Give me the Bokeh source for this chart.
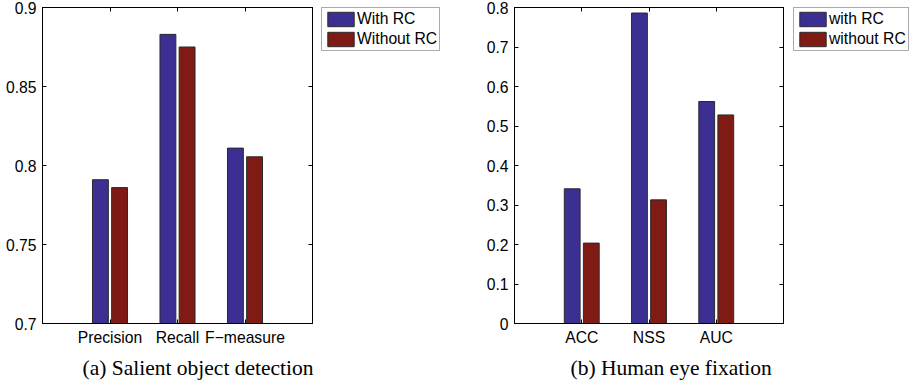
from bokeh.plotting import figure
from bokeh.layouts import row
from bokeh.models import FixedTicker, LinearAxis, Range1d, Legend, LegendItem, Title
from bokeh.core.properties import value
from bokeh.embed import file_html
from bokeh.resources import INLINE

# ---- data: (a) Salient object detection ----
cats_a = ["Precision", "Recall", "F\u2212measure"]
with_a = [0.791, 0.883, 0.811]
without_a = [0.786, 0.875, 0.8055]
yticks_a = [0.7, 0.75, 0.8, 0.85, 0.9]
ylabels_a = ["0.7", "0.75", "0.8", "0.85", "0.9"]
legend_a = ["With RC", "Without RC"]
caption_a = "(a) Salient object detection"

# ---- data: (b) Human eye fixation ----
cats_b = ["ACC", "NSS", "AUC"]
with_b = [0.341, 0.786, 0.562]
without_b = [0.2035, 0.313, 0.528]
yticks_b = [0, 0.1, 0.2, 0.3, 0.4, 0.5, 0.6, 0.7, 0.8]
ylabels_b = ["0", "0.1", "0.2", "0.3", "0.4", "0.5", "0.6", "0.7", "0.8"]
legend_b = ["with RC", "without RC"]
caption_b = "(b) Human eye fixation"

BLUE = "#3b2f94"
RED = "#7f1a15"
EDGE = "#2a2a2a"
SANS = "Liberation Sans"
SERIF = "Liberation Serif"
FS = "15.7px"
OFF = 0.142
BW = 0.235


def make_panel(cats, s1, s2, yticks, ylabels, caption, width, left, right, cap_off):
    n = len(cats)
    xs = list(range(1, n + 1))
    p = figure(width=width, height=384, x_range=Range1d(0, n + 1),
               y_range=Range1d(yticks[0], yticks[-1]),
               output_backend="svg", toolbar_location=None,
               min_border_left=left, min_border_right=right,
               min_border_top=7, min_border_bottom=61,
               x_axis_type=None, y_axis_type=None)
    p.grid.visible = False
    p.outline_line_color = "black"
    p.outline_line_width = 1
    p.background_fill_color = "white"
    p.border_fill_color = "white"

    common = dict(major_tick_in=4, major_tick_out=0, minor_tick_in=0, minor_tick_out=0,
                  axis_line_color="black", major_tick_line_color="black",
                  major_label_text_font=SANS, major_label_text_font_size=FS,
                  major_label_text_color="black")

    yax = LinearAxis(ticker=FixedTicker(ticks=yticks, minor_ticks=[]),
                     major_label_overrides={t: l for t, l in zip(yticks, ylabels)},
                     major_label_standoff=6, **common)
    p.add_layout(yax, "left")
    xax = LinearAxis(ticker=FixedTicker(ticks=xs, minor_ticks=[]),
                     major_label_overrides={x: c for x, c in zip(xs, cats)},
                     major_label_standoff=5, **common)
    p.add_layout(xax, "below")

    hidden = dict(common)
    hidden["major_label_text_alpha"] = 0
    hidden["major_label_text_font_size"] = "1px"
    rax = LinearAxis(ticker=FixedTicker(ticks=yticks, minor_ticks=[]),
                     major_label_overrides={t: " " for t in yticks},
                     major_label_standoff=0, **hidden)
    p.add_layout(rax, "right")
    tax = LinearAxis(ticker=FixedTicker(ticks=xs, minor_ticks=[]),
                     major_label_overrides={x: " " for x in xs},
                     major_label_standoff=0, **hidden)
    p.add_layout(tax, "above")

    p.vbar(x=[x - OFF for x in xs], top=s1, bottom=yticks[0], width=BW,
           fill_color=BLUE, line_color=EDGE, line_width=1)
    p.vbar(x=[x + OFF for x in xs], top=s2, bottom=yticks[0], width=BW,
           fill_color=RED, line_color=EDGE, line_width=1)

    p.add_layout(Title(text=caption, align="left", offset=cap_off, standoff=10,
                       vertical_align="bottom", text_font=SERIF,
                       text_font_size="21.5px", text_font_style="normal",
                       text_color="black"), "below")
    return p


def make_legend(labels, cats, s1, s2, base, width, left):
    xs = list(range(1, len(cats) + 1))
    lg = figure(width=width, height=384, x_range=Range1d(0, 1), y_range=Range1d(0, 1),
                output_backend="svg", toolbar_location=None,
                min_border_left=left, min_border_right=0,
                min_border_top=7, min_border_bottom=0,
                x_axis_type=None, y_axis_type=None)
    lg.grid.visible = False
    lg.outline_line_color = None
    lg.border_fill_color = "white"
    # legend keys for the two series (renderers hidden; they only supply the key style)
    d1 = lg.vbar(x=[x - OFF for x in xs], top=s1, bottom=base, width=BW,
                 fill_color=BLUE, line_color=EDGE, line_width=1, visible=False)
    d2 = lg.vbar(x=[x + OFF for x in xs], top=s2, bottom=base, width=BW,
                 fill_color=RED, line_color=EDGE, line_width=1, visible=False)
    legend = Legend(items=[LegendItem(label=value(labels[0]), renderers=[d1]),
                           LegendItem(label=value(labels[1]), renderers=[d2])],
                    location="top_left", padding=2, spacing=2, margin=0,
                    glyph_width=33, glyph_height=18, label_standoff=0,
                    label_height=16, click_policy="none",
                    inactive_fill_alpha=0,
                    label_text_font=SANS, label_text_font_size=FS,
                    label_text_color="black",
                    border_line_color="#555555", border_line_width=1,
                    background_fill_color="white", background_fill_alpha=1)
    lg.add_layout(legend)
    return lg


p1 = make_panel(cats_a, with_a, without_a, yticks_a, ylabels_a, caption_a,
                316, 42, 4, 40)
lg1 = make_legend(legend_a, cats_a, with_a, without_a, yticks_a[0], 144, 5)
p2 = make_panel(cats_b, with_b, without_b, yticks_b, ylabels_b, caption_b,
                327, 54, 4, 56)
lg2 = make_legend(legend_b, cats_b, with_b, without_b, yticks_b[0], 130, 6)

layout = row(p1, lg1, p2, lg2)

open("out.html", "w").write(file_html(layout, INLINE))
